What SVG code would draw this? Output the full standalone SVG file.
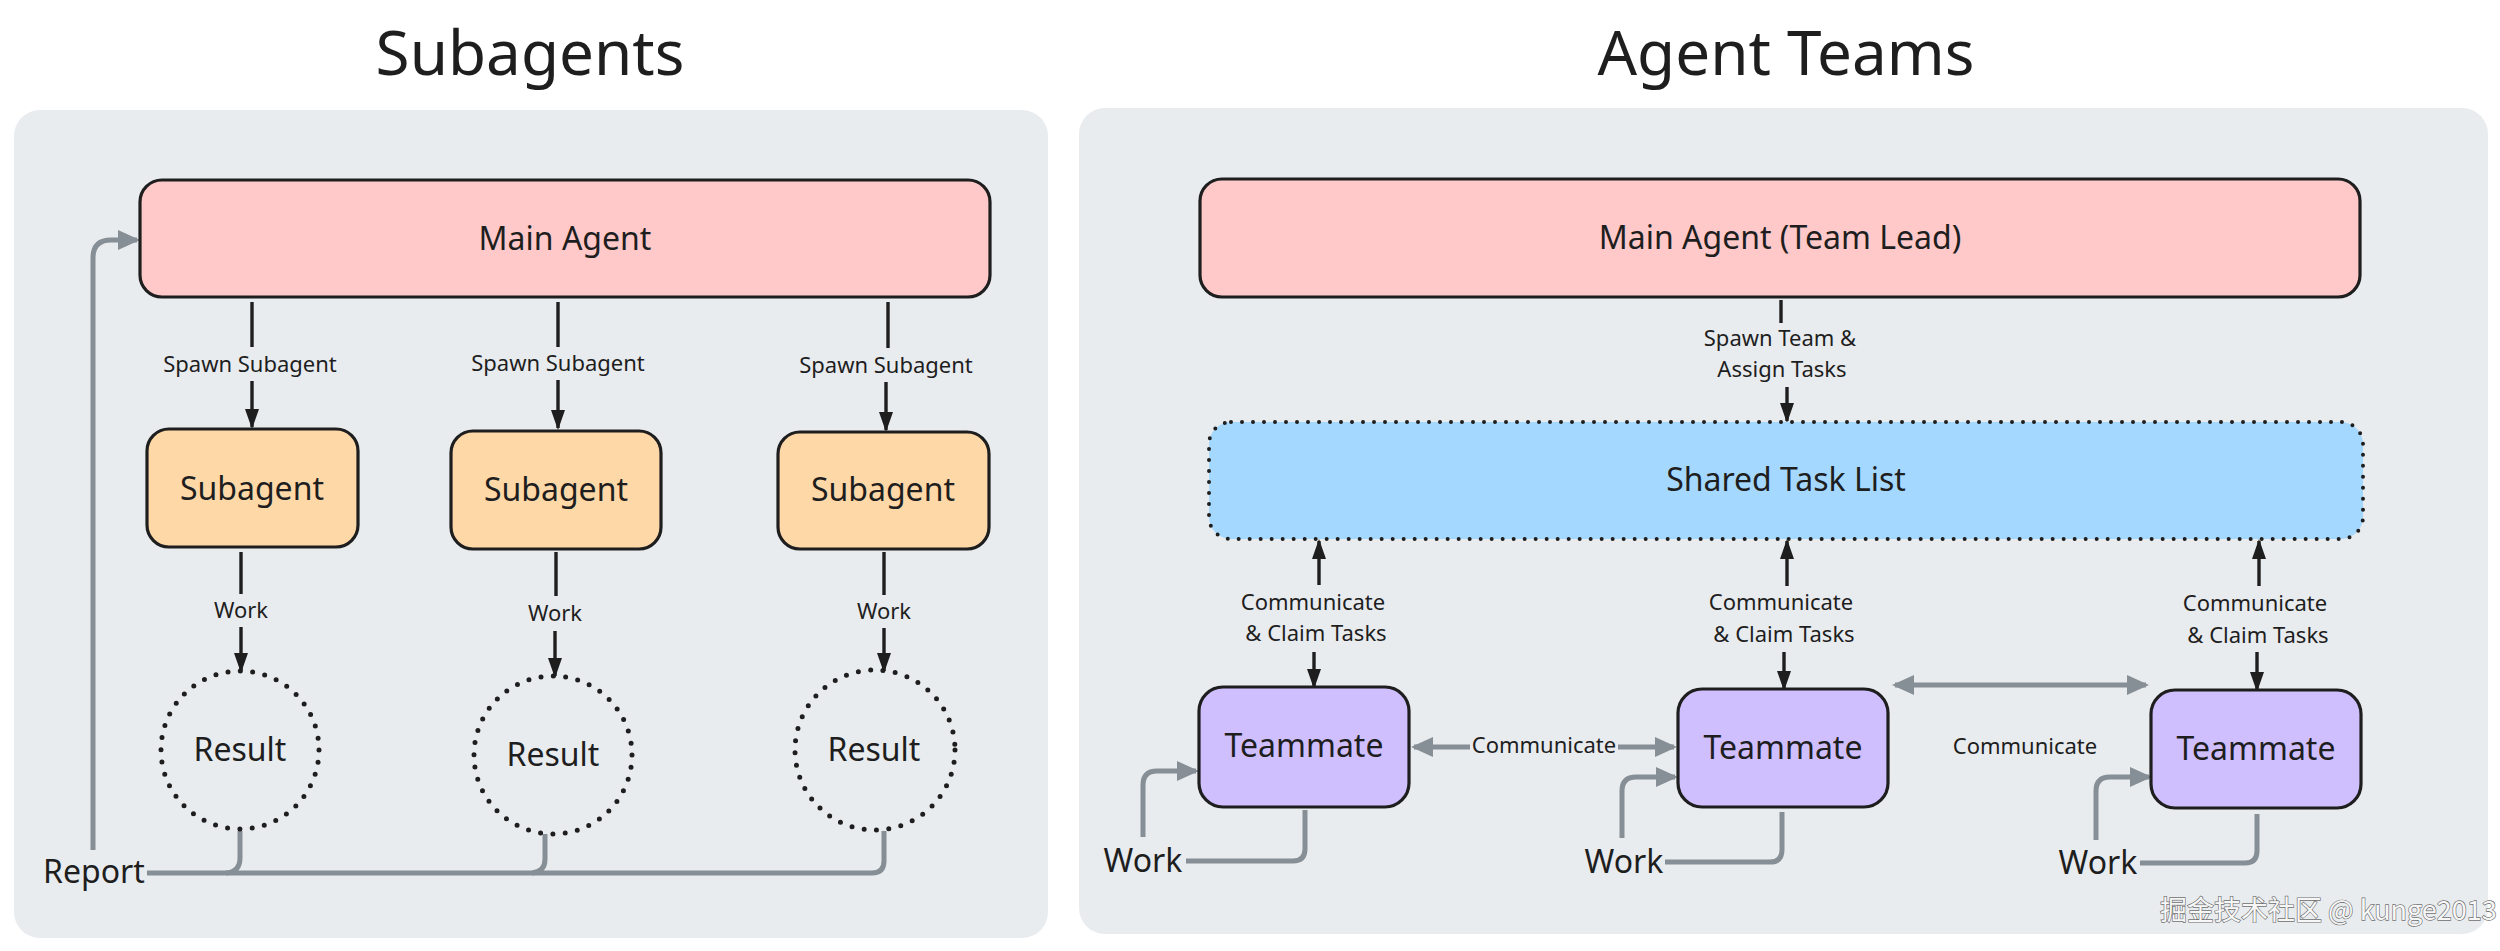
<svg xmlns="http://www.w3.org/2000/svg" width="2500" height="951" viewBox="0 0 2500 951">
<defs>
<style>
text{font-family:"Noto Sans","Liberation Sans",sans-serif;fill:#1e1e1e;text-anchor:middle;dominant-baseline:central;transform:translate(0px,-2px)}
.title{font-size:62px}
.lbl{font-size:32px}
.sm{font-size:22px}
.panel{fill:#e9ecef}
.box{stroke:#1e1e1e;stroke-width:3.2}
.pink{fill:#ffc9c9}
.orange{fill:#ffd8a8}
.purple{fill:#d0bfff}
.blue{fill:#a5d8ff;stroke:#1e1e1e;stroke-width:4;stroke-dasharray:0 11;stroke-linecap:round}
.result{fill:none;stroke:#1e1e1e;stroke-width:5;stroke-dasharray:0 12.4;stroke-linecap:round}
.blk{fill:none;stroke:#1e1e1e;stroke-width:3.4;marker-end:url(#ab)}
.bl{fill:none;stroke:#1e1e1e;stroke-width:3.4}
.gr{fill:none;stroke:#868e96;stroke-width:5;stroke-linejoin:round}
.gra{fill:none;stroke:#868e96;stroke-width:5;marker-end:url(#ag);stroke-linejoin:round}
.wm{font-family:"Noto Sans CJK SC","Noto Sans",sans-serif;font-size:27px;fill:#f7f7f7;stroke:#6f6f6f;stroke-width:1.3;paint-order:stroke;text-anchor:start}
</style>
<marker id="ab" markerUnits="userSpaceOnUse" markerWidth="20" markerHeight="14" refX="18" refY="7" orient="auto"><path d="M0,0 L20,7 L0,14 z" fill="#1e1e1e"/></marker>
<marker id="ag" markerUnits="userSpaceOnUse" markerWidth="22" markerHeight="20" refX="19" refY="10" orient="auto-start-reverse"><path d="M0,0 L22,10 L0,20 z" fill="#868e96"/></marker>
</defs>
<rect width="2500" height="951" fill="#ffffff"/>
<g id="panel-left"><rect class="panel" x="14" y="110" width="1034" height="828" rx="26"/></g>
<g id="panel-right"><rect class="panel" x="1079" y="108" width="1409" height="826" rx="26"/></g>
<text class="title" x="530" y="53">Subagents</text>
<text class="title" x="1786" y="53">Agent Teams</text>

<g id="connectors">
<!-- left: spawn -->
<path class="bl" d="M252 302 V347"/><path class="blk" d="M252 381 V427"/>
<path class="bl" d="M558 302 V347"/><path class="blk" d="M558 380 V428"/>
<path class="bl" d="M888 302 V348"/><path class="blk" d="M886 382 V430"/>
<text class="sm" x="250" y="365">Spawn Subagent</text>
<text class="sm" x="558" y="364">Spawn Subagent</text>
<text class="sm" x="886" y="366">Spawn Subagent</text>
<!-- left: work -->
<path class="bl" d="M241 552 V594"/><path class="blk" d="M241 627 V671"/>
<path class="bl" d="M556 552 V596"/><path class="blk" d="M555 631 V676"/>
<path class="bl" d="M884 552 V595"/><path class="blk" d="M884 628 V671"/>
<text class="sm" x="241" y="611">Work</text>
<text class="sm" x="555" y="614">Work</text>
<text class="sm" x="884" y="612">Work</text>
<!-- left: report -->
<path class="gr" d="M147 873 H872 Q884 873 884 861 V831"/>
<path class="gr" d="M240 831 V858 Q240 872 226 873"/>
<path class="gr" d="M545 834 V859 Q545 872 532 873"/>
<path class="gra" d="M93 850 V258 Q93 240 111 240 H137"/>
<text class="lbl" x="94" y="872">Report</text>
<!-- right: spawn team -->
<path class="bl" d="M1781 300 V323"/><path class="blk" d="M1787 387 V421"/>
<text class="sm" x="1780" y="339">Spawn Team &amp;</text>
<text class="sm" x="1782" y="370">Assign Tasks</text>
<!-- right: communicate & claim -->
<path class="blk" d="M1319 585 V541"/><path class="blk" d="M1314 652 V687"/>
<path class="blk" d="M1787 586 V541"/><path class="blk" d="M1784 652 V689"/>
<path class="blk" d="M2259 586 V541"/><path class="blk" d="M2257 652 V690"/>
<text class="sm" x="1313" y="603">Communicate</text>
<text class="sm" x="1316" y="634">&amp; Claim Tasks</text>
<text class="sm" x="1781" y="603">Communicate</text>
<text class="sm" x="1784" y="635">&amp; Claim Tasks</text>
<text class="sm" x="2255" y="604">Communicate</text>
<text class="sm" x="2258" y="636">&amp; Claim Tasks</text>
<!-- right: teammate communicate -->
<path class="gra" d="M1470 747 H1414"/>
<path class="gra" d="M1618 747 H1674"/>
<text class="sm" x="1544" y="746">Communicate</text>
<path class="gra" d="M2146 685 H1895" style="marker-start:url(#ag)"/>
<text class="sm" x="2025" y="747">Communicate</text>
<!-- right: work loops -->
<path class="gr" d="M1305 810 V849 Q1305 861 1293 861 H1186"/>
<path class="gra" d="M1143 837 V785 Q1143 771 1157 771 H1196"/>
<path class="gr" d="M1782 812 V850 Q1782 862 1770 862 H1665"/>
<path class="gra" d="M1622 838 V791 Q1622 777 1636 777 H1675"/>
<path class="gr" d="M2257 814 V851 Q2257 863 2245 863 H2140"/>
<path class="gra" d="M2096 840 V791 Q2096 777 2110 777 H2149"/>
<text class="lbl" x="1143" y="861">Work</text>
<text class="lbl" x="1624" y="862">Work</text>
<text class="lbl" x="2098" y="863">Work</text>
</g>

<g id="main-agent"><rect class="box pink" x="140" y="180" width="850" height="117" rx="22"/><text class="lbl" x="565" y="239">Main Agent</text></g>
<g id="subagent-1"><rect class="box orange" x="147" y="429" width="211" height="118" rx="22"/><text class="lbl" x="252" y="489">Subagent</text></g>
<g id="subagent-2"><rect class="box orange" x="451" y="431" width="210" height="118" rx="22"/><text class="lbl" x="556" y="490">Subagent</text></g>
<g id="subagent-3"><rect class="box orange" x="778" y="432" width="211" height="117" rx="22"/><text class="lbl" x="883" y="490">Subagent</text></g>
<g id="result-1"><circle class="result" cx="240" cy="750" r="79"/><text class="lbl" x="240" y="750">Result</text></g>
<g id="result-2"><circle class="result" cx="553" cy="755" r="79"/><text class="lbl" x="553" y="755">Result</text></g>
<g id="result-3"><circle class="result" cx="875" cy="750" r="80"/><text class="lbl" x="874" y="750">Result</text></g>

<g id="team-lead"><rect class="box pink" x="1200" y="179" width="1160" height="118" rx="22"/><text class="lbl" x="1780" y="238">Main Agent (Team Lead)</text></g>
<g id="shared-task-list"><rect class="blue" x="1209" y="422" width="1154" height="117" rx="22"/><text class="lbl" x="1786" y="480">Shared Task List</text></g>
<g id="teammate-1"><rect class="box purple" x="1199" y="687" width="210" height="120" rx="24"/><text class="lbl" x="1304" y="746">Teammate</text></g>
<g id="teammate-2"><rect class="box purple" x="1678" y="689" width="210" height="118" rx="24"/><text class="lbl" x="1783" y="748">Teammate</text></g>
<g id="teammate-3"><rect class="box purple" x="2151" y="690" width="210" height="118" rx="24"/><text class="lbl" x="2256" y="749">Teammate</text></g>

<text class="wm" x="2160" y="910">掘金技术社区 @ kunge2013</text>
</svg>
